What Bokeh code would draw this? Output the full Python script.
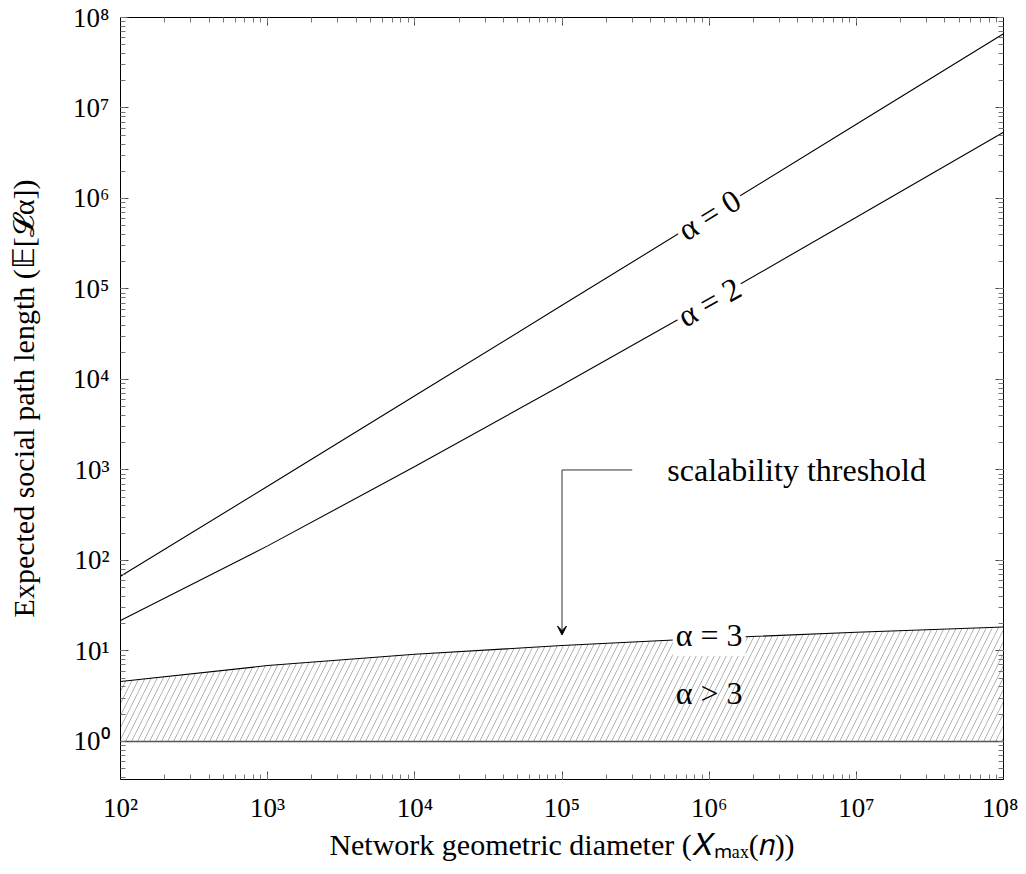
from bokeh.plotting import figure
from bokeh.models import (Range1d, LogAxis, LogTicker, Arrow, VeeHead, Label,
                          CustomJSTickFormatter)
from bokeh.embed import file_html
from bokeh.resources import INLINE
import math

# ---- data ----
x_vals = [1e2, 1e3, 1e4, 1e5, 1e6, 1e7, 1e8]
alpha0 = [67, 660, 6.6e3, 6.6e4, 6.6e5, 6.6e6, 6.6e7]
alpha2 = [21.7, 145, 1090, 8700, 7.2e4, 6.2e5, 5.4e6]
alpha3 = [4.6, 6.9, 9.2, 11.5, 13.8, 16.1, 18.4]
floor_ = [1, 1, 1, 1, 1, 1, 1]

label_text = ["α = 0", "α = 2", "α = 3", "α > 3"]
label_x = [1e6, 1e6, 1e6, 1e6]
label_y = [6.6e5, 7.2e4, 15.0, 3.4]
label_angle = [31.6, 29.5, 0.0, 0.0]

annot_text = "scalability threshold"
annot_x = 5.2e5
annot_y = 1e3
arrow_x = 1e5
arrow_start_y = 1e3
arrow_end_y = 15
elbow_x = 3e5

FONT = "Liberation Serif"

p = figure(x_axis_type="log", y_axis_type="log",
           x_range=Range1d(1e2, 1e8), y_range=Range1d(0.38, 1e8),
           frame_width=883, frame_height=762,
           min_border_left=120, min_border_right=15,
           min_border_top=17, min_border_bottom=87,
           output_backend="svg", toolbar_location=None)
p.grid.visible = False
p.outline_line_color = "black"
p.background_fill_color = "white"

sup_code = """
const sup = {'0':'\u2070','1':'\u00b9','2':'\u00b2','3':'\u00b3','4':'\u2074','5':'\u2075','6':'\u2076','7':'\u2077','8':'\u2078','9':'\u2079','-':'\u207b'};
const e = Math.round(Math.log10(tick));
return '10' + String(e).split('').map(c => sup[c]).join('');
"""
blank = CustomJSTickFormatter(code="return '';")

def style_axis(ax):
    ax.axis_line_color = "black"
    ax.axis_line_width = 1
    ax.major_tick_in = 8
    ax.major_tick_out = 0
    ax.minor_tick_in = 5
    ax.minor_tick_out = 0
    ax.major_tick_line_color = "#444444"
    ax.minor_tick_line_color = "#777777"
    ax.major_label_text_font = FONT
    ax.major_label_text_font_size = "27px"
    ax.major_label_text_color = "black"
    ax.axis_label_text_font = FONT
    ax.axis_label_text_font_size = "30px"
    ax.axis_label_text_font_style = "normal"
    ax.axis_label_text_color = "black"

for ax in (p.xaxis[0], p.yaxis[0]):
    ax.ticker = LogTicker(num_minor_ticks=10)
    ax.formatter = CustomJSTickFormatter(code=sup_code)
    style_axis(ax)
p.xaxis[0].major_label_standoff = 13
p.yaxis[0].major_label_standoff = 11
p.xaxis[0].axis_label = "Network geometric diameter (𝑋ₘₐₓ(𝑛))"
p.yaxis[0].axis_label = "Expected social path length (𝔼[𝓛α])"
p.xaxis[0].axis_label_standoff = 2
p.yaxis[0].axis_label_standoff = 30

top = LogAxis(ticker=LogTicker(num_minor_ticks=10), formatter=blank)
right = LogAxis(ticker=LogTicker(num_minor_ticks=10), formatter=blank)
for ax in (top, right):
    style_axis(ax)
    ax.major_label_standoff = 0
p.add_layout(top, "above")
p.add_layout(right, "right")

# hatched region alpha > 3
p.varea(x=x_vals, y1=floor_, y2=alpha3, fill_alpha=0,
        hatch_pattern="/", hatch_color="#a8a8a8", hatch_scale=12,
        hatch_weight=0.9)

p.line(x_vals, floor_, line_color="#555555", line_width=1.6)
p.line(x_vals, alpha0, line_color="black", line_width=1.1)
p.line(x_vals, alpha2, line_color="black", line_width=1.1)
p.line(x_vals, alpha3, line_color="black", line_width=1.1)

bgs = ["white", "white", "white", None]
for t, lx, ly, la, bg in zip(label_text, label_x, label_y, label_angle, bgs):
    p.add_layout(Label(x=lx, y=ly, text=t, angle=math.radians(la),
                       text_font=FONT, text_font_size="32px",
                       text_align="center", text_baseline="middle",
                       text_color="black", background_fill_color=bg,
                       padding=3))

p.add_layout(Label(x=annot_x, y=annot_y, text=annot_text,
                   text_font=FONT, text_font_size="32px",
                   text_align="left", text_baseline="middle",
                   text_color="black"))

p.line([elbow_x, arrow_x], [arrow_start_y, arrow_start_y],
       line_color="#333333", line_width=1)
p.add_layout(Arrow(end=VeeHead(size=9, fill_color="black", line_color="black", line_width=1),
                   x_start=arrow_x, y_start=arrow_start_y,
                   x_end=arrow_x, y_end=arrow_end_y,
                   line_color="#333333", line_width=1))

open("out.html", "w").write(file_html(p, INLINE))
